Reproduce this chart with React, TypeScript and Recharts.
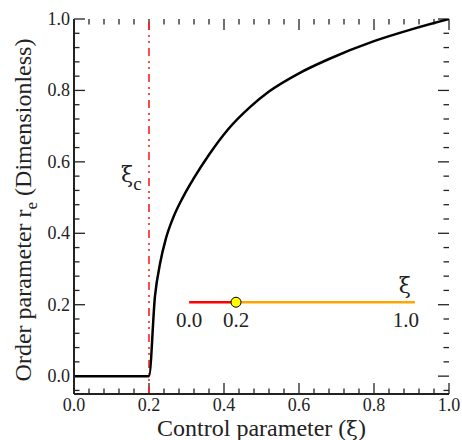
import React from "react";
import {
  LineChart,
  Line,
  XAxis,
  YAxis,
  ReferenceLine,
  ReferenceDot,
} from "recharts";

// main curve: order parameter vs control parameter
const controlParam = [0, 0.2, 0.216, 0.23, 0.245, 0.265, 0.29, 0.32, 0.36, 0.41, 0.47, 0.52, 0.6, 0.68, 0.8, 0.9, 1.0];
const orderParam = [0, 0, 0.225, 0.318, 0.385, 0.445, 0.5, 0.555, 0.62, 0.69, 0.754, 0.797, 0.848, 0.888, 0.938, 0.971, 1.0];

const criticalXi = 0.2;

// small inset scale (0 -> 1 for xi) drawn inside the plot
const insetX = [0.307, 0.432, 0.909];
const insetY = 0.207;
const insetLabels = ["0.0", "0.2", "1.0"];

const xTicks = [0, 0.04, 0.08, 0.12, 0.16, 0.2, 0.24, 0.28, 0.32, 0.36, 0.4, 0.44, 0.48, 0.52, 0.56, 0.6, 0.64, 0.68, 0.72, 0.76, 0.8, 0.84, 0.88, 0.92, 0.96, 1.0];
const yTicks = [-0.04, 0, 0.04, 0.08, 0.12, 0.16, 0.2, 0.24, 0.28, 0.32, 0.36, 0.4, 0.44, 0.48, 0.52, 0.56, 0.6, 0.64, 0.68, 0.72, 0.76, 0.8, 0.84, 0.88, 0.92, 0.96, 1.0];

const X_DOMAIN: [number, number] = [0, 1];
const Y_DOMAIN: [number, number] = [-0.05, 1];

const curveData = controlParam.map((x, i) => ({ x, r: orderParam[i] }));
const redSeg = [
  { x: insetX[0], y: insetY },
  { x: insetX[1], y: insetY },
];
const orangeSeg = [
  { x: insetX[1], y: insetY },
  { x: insetX[2], y: insetY },
];
const insetTicks = insetX.map((x, i) => ({ x, y: insetY, label: insetLabels[i] }));

const FONT = "'Liberation Serif', 'DejaVu Serif', serif";
const GREEK = "'DejaVu Serif', serif";
const INK = "#222";

// plot box is 375 x 375 px; tick lengths (11 / 5.5 px) expressed in axis units
const PLOT_PX = 375;
const xLen = (px: number) => (px * (X_DOMAIN[1] - X_DOMAIN[0])) / PLOT_PX;
const yLen = (px: number) => (px * (Y_DOMAIN[1] - Y_DOMAIN[0])) / PLOT_PX;

const isMajor = (v: number) => Math.abs(v * 5 - Math.round(v * 5)) < 1e-6;
const tickPx = (v: number) => (isMajor(v) ? 11 : 5.5);

const BottomTick = (props: any) => {
  const { x, y, payload } = props;
  if (!isMajor(payload.value)) return <g />;
  return (
    <text x={x} y={y + 17} textAnchor="middle" fontSize={18} fill={INK} fontFamily={FONT}>
      {payload.value.toFixed(1)}
    </text>
  );
};

const LeftTick = (props: any) => {
  const { x, y, payload } = props;
  if (!isMajor(payload.value)) return <g />;
  return (
    <text x={x - 4} y={y + 6} textAnchor="end" fontSize={18} fill={INK} fontFamily={FONT}>
      {Math.abs(payload.value).toFixed(1)}
    </text>
  );
};

const XTitle = (props: any) => {
  const vb = props.viewBox;
  return (
    <text x={vb.x + vb.width / 2} y={vb.y + 42} textAnchor="middle" fontSize={24} fill={INK} fontFamily={FONT}>
      Control parameter (<tspan fontFamily={GREEK} fontSize={21}>ξ</tspan>)
    </text>
  );
};

const YTitle = () => (
  <text
    x={31}
    y={210}
    transform="rotate(-90, 31, 210)"
    textAnchor="middle"
    fontSize={24}
    fill={INK}
    fontFamily={FONT}
  >
    Order parameter r
    <tspan dy={6} fontSize={17}>e</tspan>
    <tspan dy={-6}> (Dimensionless)</tspan>
  </text>
);

const XiCLabel = (props: any) => {
  const vb = props.viewBox;
  return (
    <text x={vb.x - 28} y={vb.y + 163} fontSize={22} fill={INK} fontFamily={GREEK}>
      ξ<tspan dy={8} fontSize={19} fontFamily={FONT}>c</tspan>
    </text>
  );
};

const InsetLabel = (props: any) => {
  const { x, y, index } = props;
  const last = index === insetTicks.length - 1;
  return (
    <g>
      <text x={last ? x - 9 : x} y={y + 25} textAnchor="middle" fontSize={21} fill={INK} fontFamily={FONT}>
        {insetTicks[index].label}
      </text>
      {last && (
        <text x={x - 10} y={y - 9} textAnchor="middle" fontSize={22} fill={INK} fontFamily={GREEK}>
          ξ
        </text>
      )}
    </g>
  );
};

const axisLineStyle = { stroke: INK, strokeWidth: 2 };

export default function App() {
  return (
    <div style={{ position: "absolute", left: 0, top: 0, width: 462, height: 440, background: "#fff" }}>
      <LineChart width={462} height={440} margin={{ top: 19, right: 13, bottom: 0, left: 0 }}>
        <XAxis
          dataKey="x"
          type="number"
          domain={X_DOMAIN}
          ticks={xTicks}
          interval={0}
          height={46}
          tickSize={0}
          tickMargin={0}
          tickLine={false}
          tick={BottomTick}
          axisLine={axisLineStyle}
          allowDataOverflow
          label={<XTitle />}
        />
        <XAxis
          xAxisId="top"
          orientation="top"
          type="number"
          domain={X_DOMAIN}
          height={0}
          tickLine={false}
          tick={false}
          axisLine={axisLineStyle}
          allowDataOverflow
        />
        <YAxis
          type="number"
          domain={Y_DOMAIN}
          ticks={yTicks}
          interval={0}
          width={74}
          tickSize={0}
          tickMargin={0}
          tickLine={false}
          tick={LeftTick}
          axisLine={axisLineStyle}
          allowDataOverflow
          label={<YTitle />}
        />
        <YAxis
          yAxisId="right"
          orientation="right"
          type="number"
          domain={Y_DOMAIN}
          width={0}
          tickLine={false}
          tick={false}
          axisLine={axisLineStyle}
          allowDataOverflow
        />

        {/* inward tick marks on all four sides */}
        {xTicks.map((v) => (
          <ReferenceLine
            key={`xb${v}`}
            segment={[{ x: v, y: Y_DOMAIN[0] }, { x: v, y: Y_DOMAIN[0] + yLen(tickPx(v)) }]}
            stroke={INK}
            strokeWidth={1.3}
          />
        ))}
        {xTicks.map((v) => (
          <ReferenceLine
            key={`xt${v}`}
            segment={[{ x: v, y: Y_DOMAIN[1] }, { x: v, y: Y_DOMAIN[1] - yLen(tickPx(v)) }]}
            stroke={INK}
            strokeWidth={1.3}
          />
        ))}
        {yTicks.map((v) => (
          <ReferenceLine
            key={`yl${v}`}
            segment={[{ x: X_DOMAIN[0], y: v }, { x: X_DOMAIN[0] + xLen(tickPx(v)), y: v }]}
            stroke={INK}
            strokeWidth={1.3}
          />
        ))}
        {yTicks.map((v) => (
          <ReferenceLine
            key={`yr${v}`}
            segment={[{ x: X_DOMAIN[1], y: v }, { x: X_DOMAIN[1] - xLen(tickPx(v)), y: v }]}
            stroke={INK}
            strokeWidth={1.3}
          />
        ))}

        <ReferenceLine
          x={criticalXi}
          stroke="#ff2020"
          strokeWidth={1.6}
          strokeDasharray="8 5 2 4 2 5"
          label={<XiCLabel />}
        />
        <Line
          data={curveData}
          dataKey="r"
          type="monotone"
          stroke="#000"
          strokeWidth={2.5}
          dot={false}
          isAnimationActive={false}
        />
        <Line
          data={redSeg}
          dataKey="y"
          stroke="#ff0000"
          strokeWidth={2.5}
          dot={false}
          isAnimationActive={false}
        />
        <Line
          data={orangeSeg}
          dataKey="y"
          stroke="#ffa500"
          strokeWidth={2.5}
          dot={false}
          isAnimationActive={false}
        />
        <Line
          data={insetTicks}
          dataKey="y"
          stroke="none"
          dot={false}
          label={<InsetLabel />}
          isAnimationActive={false}
        />
        <ReferenceDot x={insetX[1]} y={insetY} r={5} fill="#ffff00" stroke="#000" strokeWidth={1} />
      </LineChart>
    </div>
  );
}
